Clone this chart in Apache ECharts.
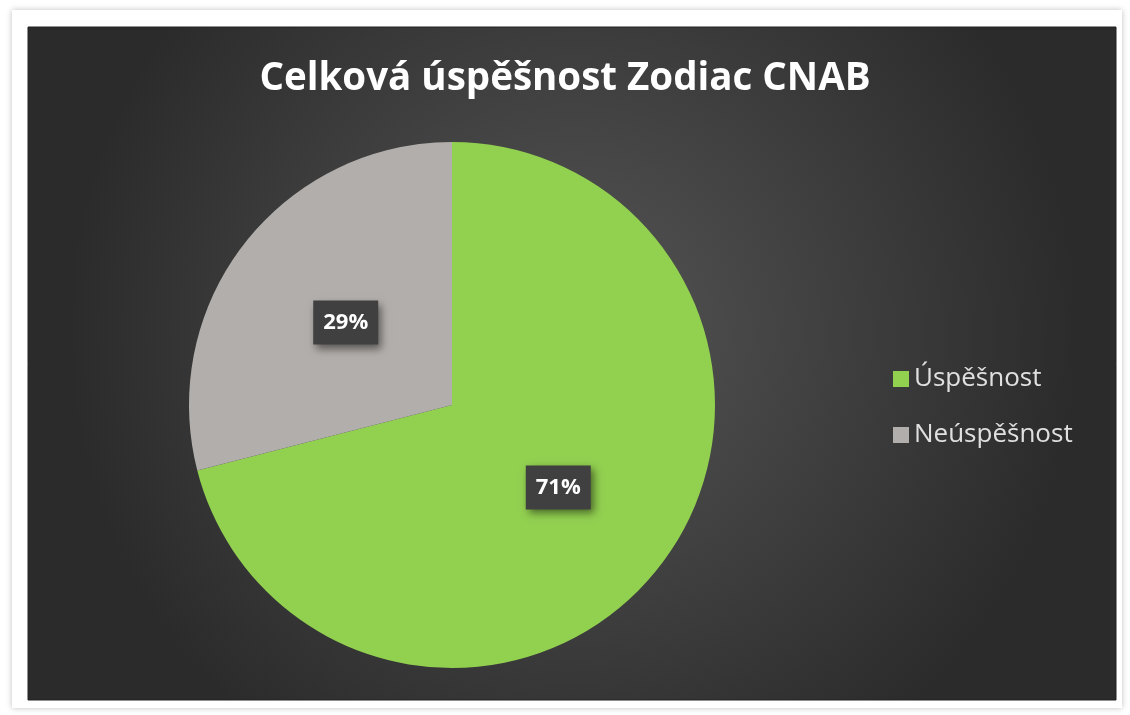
<!DOCTYPE html>
<html>
<head>
<meta charset="utf-8">
<script src="https://cdn.jsdelivr.net/npm/echarts@6/dist/echarts.min.js"></script>
<style>
html, body { margin: 0; padding: 0; background: #fff; }
#chart { width: 1130px; height: 715px; }
</style>
</head>
<body>
<div id="chart"></div>
<script>
var titleText = 'Celková úspěšnost Zodiac CNAB';
var names = ['Úspěšnost', 'Neúspěšnost'];
var values = [71, 29];
var colors = ['#92d050', '#b2aeab'];

var chart = echarts.init(document.getElementById('chart'));

var pieData = [];
for (var i = 0; i < names.length; i++) {
    pieData.push({ name: names[i], value: values[i], itemStyle: { color: colors[i] } });
}

var option = {
    backgroundColor: '#ffffff',
    animation: false,
    graphic: [
        {
            type: 'rect',
            z: -10,
            shape: { x: 12, y: 10, width: 1110, height: 698 },
            style: { fill: '#ffffff', shadowBlur: 6, shadowColor: 'rgba(0,0,0,0.25)' }
        },
        {
            type: 'rect',
            z: -9,
            shape: { x: 28, y: 27, width: 1088, height: 673 },
            style: {
                fill: {
                    type: 'radial', x: 0.5, y: 0.45, r: 0.75,
                    colorStops: [
                        { offset: 0, color: '#555555' },
                        { offset: 1, color: '#2b2b2b' }
                    ]
                },
                stroke: '#222', lineWidth: 1
            }
        }
    ],
    title: {
        text: titleText,
        left: 'center',
        top: 55,
        padding: [5, 0, 5, 10],
        textStyle: {
            color: '#ffffff',
            fontFamily: 'Open Sans',
            fontWeight: 'bold',
            fontSize: 38.5
        }
    },
    legend: {
        orient: 'vertical',
        left: 888,
        top: 361,
        itemWidth: 16,
        itemHeight: 16,
        itemGap: 30,
        icon: 'rect',
        data: names,
        textStyle: {
            color: '#e0e0e0',
            fontFamily: 'Open Sans',
            fontSize: 26
        }
    },
    series: [{
        type: 'pie',
        center: [452, 405],
        radius: 263,
        startAngle: 90,
        clockwise: true,
        data: pieData,
        label: {
            show: true,
            position: 'inside',
            formatter: '{d}%',
            color: '#ffffff',
            fontFamily: 'Open Sans',
            fontWeight: 'bold',
            fontSize: 22,
            backgroundColor: '#404040',
            padding: [12, 10, 10, 10],
            shadowBlur: 8,
            shadowColor: 'rgba(0,0,0,0.5)',
            shadowOffsetX: 3,
            shadowOffsetY: 4
        },
        labelLine: { show: false },
        emphasis: { disabled: true }
    }]
};

chart.setOption(option);
</script>
</body>
</html>
